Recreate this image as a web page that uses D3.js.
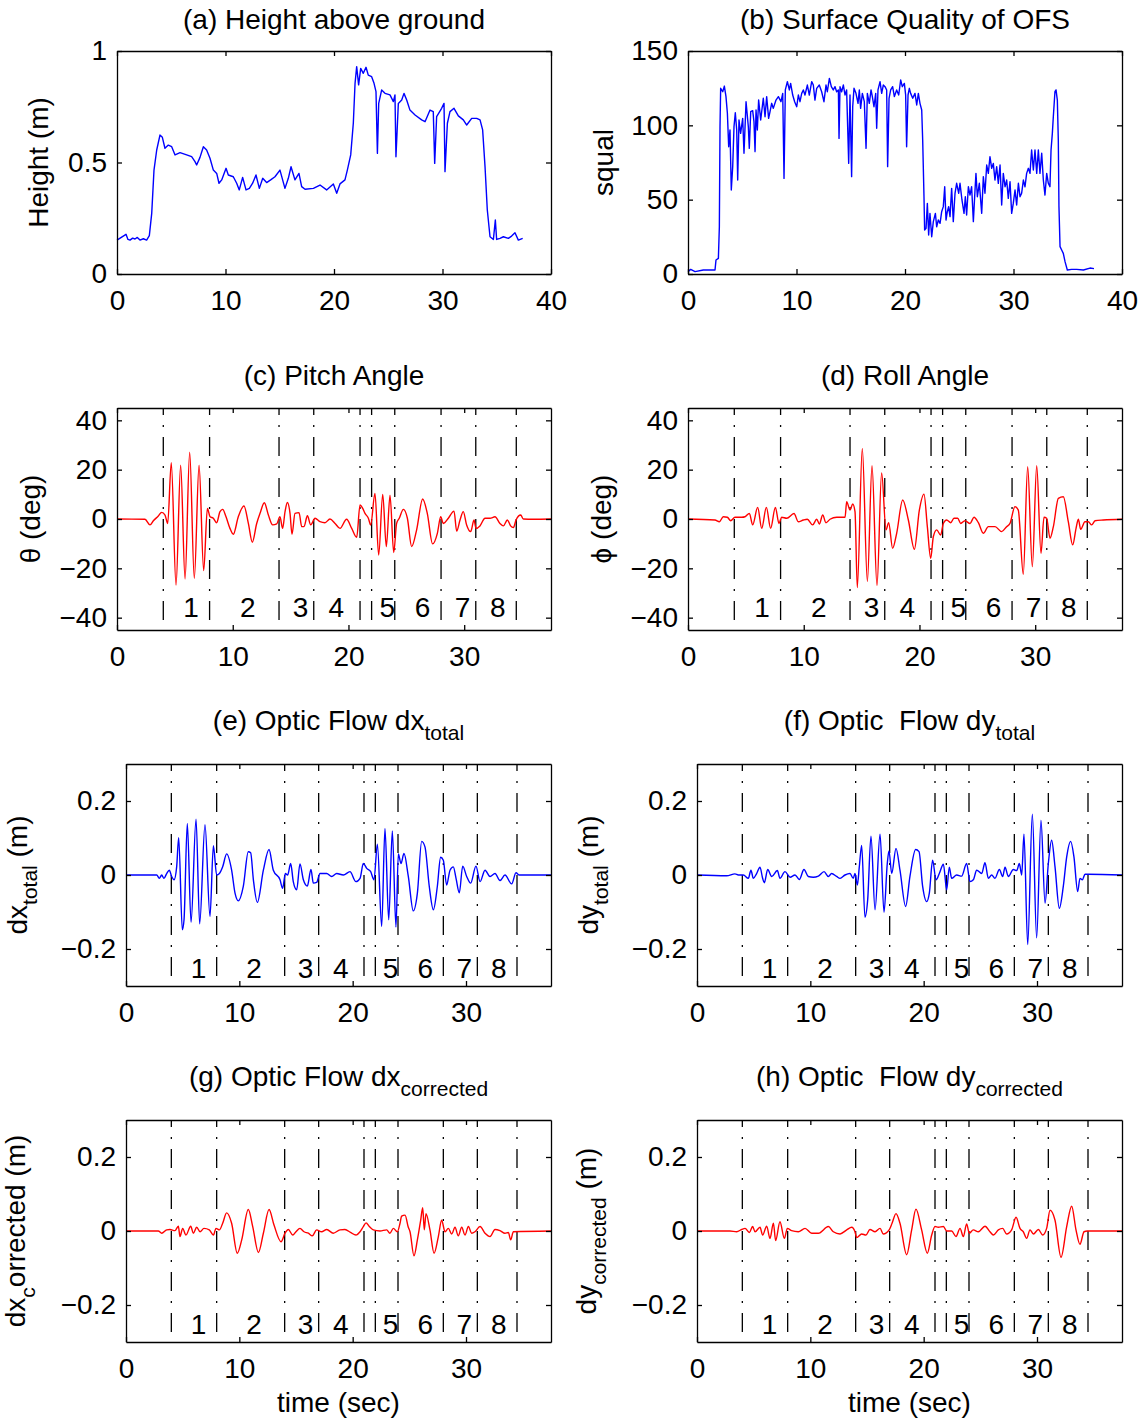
<!DOCTYPE html>
<html><head><meta charset="utf-8">
<script src="https://cdn.jsdelivr.net/npm/d3@7"></script>
<style>
body{margin:0;background:#fff;}
text{font-family:"Liberation Sans",Arial,Helvetica,sans-serif;white-space:pre;}
</style></head><body>
<script>
// ---------- DATA (time [s], value) ----------
const heightData = [[0,.152],[.83,.178],[1.01,.155],[1.2,.152],[1.44,.161],[1.66,.157],[1.87,.164],[2.12,.152],[2.43,.158],[2.73,.152],[2.98,.172],[3.2,.272],[3.41,.466],[3.66,.556],[3.96,.623],[4.18,.613],[4.42,.564],[4.73,.578],[5.04,.571],[5.35,.534],[5.81,.544],[6.42,.534],[6.88,.526],[7.19,.504],[7.34,.489],[7.65,.523],[7.96,.571],[8.26,.556],[8.57,.519],[8.88,.466],[9.19,.451],[9.4,.407],[9.65,.422],[10.05,.474],[10.26,.444],[10.72,.436],[11.03,.407],[11.27,.377],[11.58,.433],[11.89,.377],[12.2,.384],[12.5,.407],[12.81,.444],[13.12,.384],[13.43,.429],[13.79,.41],[14.16,.422],[14.56,.436],[15.02,.466],[15.48,.384],[15.79,.429],[16.04,.481],[16.4,.422],[16.77,.451],[17.02,.392],[17.33,.38],[18.1,.384],[18.71,.399],[19.32,.377],[19.94,.404],[20.25,.362],[20.55,.404],[21.01,.422],[21.23,.466],[21.54,.534],[21.78,.676],[21.94,.855],[22.09,.93],[22.27,.848],[22.46,.922],[22.7,.9],[22.95,.927],[23.16,.892],[23.47,.885],[23.69,.855],[23.87,.818],[24.0,.541],[24.12,.765],[24.39,.825],[24.7,.81],[25.16,.803],[25.47,.773],[25.62,.803],[25.71,.526],[25.93,.765],[26.24,.78],[26.45,.81],[26.7,.78],[27.0,.735],[27.47,.713],[28.08,.691],[28.39,.683],[28.85,.735],[29.15,.728],[29.28,.496],[29.46,.706],[29.92,.743],[30.14,.765],[30.23,.459],[30.45,.676],[30.69,.728],[31.06,.743],[31.46,.709],[31.92,.691],[32.23,.668],[32.69,.698],[33.15,.698],[33.46,.691],[33.7,.646],[33.92,.481],[34.13,.287],[34.38,.167],[34.69,.155],[34.87,.242],[34.99,.155],[35.3,.16],[35.61,.167],[36.07,.16],[36.37,.17],[36.68,.185],[36.99,.152],[37.39,.16]];

const squalData = [[0,1.6],[.25,3.1],[.65,1.6],[1.41,2.7],[2.49,2.7],[2.58,9.4],[2.8,10.5],[2.89,31.8],[2.95,99.1],[3.01,124.9],[3.2,122.6],[3.35,126.4],[3.5,119.3],[3.63,108.1],[3.75,85.6],[3.87,96.9],[3.99,56.5],[4.12,72.2],[4.24,99.1],[4.36,108.5],[4.49,96.9],[4.58,63.2],[4.7,103.6],[4.85,94.6],[5.04,104.7],[5.16,81.2],[5.35,115.9],[5.56,99.1],[5.65,84.5],[5.78,109.2],[5.96,109.9],[6.08,102.5],[6.18,82.3],[6.27,110.3],[6.39,96.9],[6.51,117],[6.7,103.6],[6.94,118.2],[7.1,105.8],[7.25,119.3],[7.43,104.7],[7.56,109.2],[7.71,114.8],[7.86,111.4],[8.11,117],[8.33,119.3],[8.57,115.9],[8.73,121.5],[8.85,64.3],[8.97,123.8],[9.16,129.4],[9.34,123.8],[9.46,128.2],[9.65,120.4],[9.83,115.9],[10.02,112.5],[10.17,120.4],[10.32,115.9],[10.48,121.5],[10.63,123.8],[10.78,120.4],[11.0,127.1],[11.18,120.4],[11.4,129.4],[11.55,127.1],[11.7,117],[11.86,124.9],[12.1,127.1],[12.32,122.6],[12.53,115.9],[12.72,127.1],[12.84,122.6],[13.03,131.6],[13.21,126],[13.39,123.8],[13.55,126],[13.7,122.6],[13.86,123.8],[13.92,91.2],[14.01,126],[14.16,122.6],[14.32,127.1],[14.47,120.4],[14.62,123.8],[14.81,74.4],[14.93,120.4],[15.08,65.5],[15.18,112.5],[15.3,124.9],[15.48,121.5],[15.67,114.8],[15.79,123.8],[15.91,111.4],[16.07,121.5],[16.25,115.9],[16.41,84.5],[16.53,121.5],[16.71,114.8],[16.87,123.8],[16.99,119.3],[17.14,112.5],[17.3,121.5],[17.39,98],[17.51,123.8],[17.7,129.4],[17.85,121.5],[18.0,127.1],[18.16,126],[18.31,123.8],[18.4,72.2],[18.53,118.2],[18.68,123.8],[18.86,126],[19.02,119.3],[19.23,123.8],[19.42,120.4],[19.6,130.5],[19.75,126],[19.94,128.2],[20.06,120.4],[20.15,85.6],[20.28,120.4],[20.4,124.9],[20.52,121.5],[20.71,118.2],[20.92,121.5],[21.08,113.7],[21.23,121.5],[21.38,114.8],[21.54,110.3],[21.63,90.1],[21.75,52],[21.81,29.6],[21.94,30.7],[22.06,47.5],[22.18,26.2],[22.3,40.8],[22.46,25.1],[22.61,35.2],[22.8,40.8],[22.92,31.8],[23.07,36.3],[23.23,34.1],[23.38,41.9],[23.53,45.3],[23.66,58.7],[23.78,36.3],[23.9,41.9],[24.02,45.3],[24.15,38.6],[24.3,57.6],[24.45,35.2],[24.61,54.3],[24.76,61],[24.95,54.3],[25.07,61],[25.25,49.8],[25.44,40.8],[25.56,52],[25.68,39.7],[25.84,58.7],[25.99,53.1],[26.14,58.7],[26.3,35.2],[26.42,52],[26.54,67.7],[26.67,52],[26.85,61],[27.07,40.8],[27.22,65.5],[27.37,54.3],[27.53,73.3],[27.68,67.7],[27.83,78.9],[27.99,71.1],[28.14,74.4],[28.29,63.2],[28.45,72.2],[28.6,61],[28.76,73.3],[28.91,46.4],[29.06,67.7],[29.22,58.7],[29.37,63.2],[29.52,50.9],[29.68,62.1],[29.83,40.8],[29.98,47.5],[30.14,56.5],[30.29,46.4],[30.45,61],[30.6,52],[30.75,54.3],[30.91,63.2],[31.06,58.7],[31.21,67.7],[31.37,71.1],[31.52,67.7],[31.67,83.4],[31.83,70],[31.98,83.4],[32.14,67.7],[32.29,83.4],[32.44,67.7],[32.6,81.2],[32.75,63.2],[32.9,53.1],[33.06,67.7],[33.21,61],[33.36,58.7],[33.46,83.4],[33.58,94.6],[33.67,105.8],[33.82,122.6],[33.92,123.8],[34.04,117],[34.13,90.1],[34.19,45.3],[34.29,18.4],[34.44,16.1],[34.59,13.9],[34.75,8.3],[34.96,2.7],[35.36,3.1],[35.82,3.1],[36.44,2.7],[37.05,4.0],[37.42,3.6]];

const pitchData = [[0,0],[2.42,-.1],[2.85,-2.4],[3.14,-.7],[3.57,1.2],[3.86,2.7],[4.15,1.6],[4.38,-1.8],[4.69,22.8],[5.1,-26.8],[5.5,21.8],[5.88,-24.3],[6.28,27.1],[6.68,-24.0],[7.09,21.8],[7.49,-20.9],[7.81,4.3],[8.04,.9],[8.32,.3],[8.61,-1.5],[8.9,3.0],[9.13,3.9],[9.42,.9],[9.76,-3.8],[10.05,-6.2],[10.48,.9],[10.97,5.3],[11.35,-1.8],[11.69,-9.4],[12.07,-1.8],[12.36,2.3],[12.73,6.6],[13.08,1.6],[13.45,-2.4],[13.8,-2.0],[14.08,.9],[14.31,-3.8],[14.52,3.0],[14.72,6.7],[14.95,2.3],[15.12,-6.2],[15.38,2.3],[15.73,2.6],[15.96,-3.1],[16.16,-3.1],[16.45,1.3],[16.74,-2.4],[17.11,.3],[17.54,-1.1],[17.97,-1.5],[18.4,0],[18.84,-1.8],[19.27,-3.8],[19.84,-.1],[20.28,-3.8],[20.71,-7.4],[21.0,5.7],[21.23,4.3],[21.43,2.3],[21.72,.3],[21.92,-2.4],[22.29,10.4],[22.61,-14.6],[22.96,10.0],[23.27,-11.2],[23.59,9.6],[23.91,-13.6],[24.16,-1.8],[24.39,.3],[24.74,3.9],[25.09,.3],[25.46,-11.2],[25.89,-4.4],[26.41,8.1],[26.81,2.3],[27.27,-10.1],[27.68,-5.8],[27.97,.9],[28.2,-1.8],[28.63,.3],[29.12,3.2],[29.35,-4.9],[29.64,-.4],[29.92,3.0],[30.21,-2.4],[30.56,-5.1],[30.85,-.4],[31.02,-3.8],[31.36,-2.8],[31.8,.3],[32.23,.3],[32.66,.9],[33.09,-1.8],[33.38,-2.8],[33.73,-.4],[34.01,-2.8],[34.25,-3.5],[34.48,-.4],[34.88,1.6],[35.11,0],[35.97,-.1],[37.5,0]];

const rollData = [[0,0],[2.33,-.4],[2.71,-1.1],[3.05,.9],[3.4,.7],[3.69,-.7],[4.06,.7],[4.64,.7],[4.93,.9],[5.3,2.3],[5.59,-2.4],[6.02,4.7],[6.37,-3.8],[6.77,4.7],[7.14,-3.8],[7.55,4.7],[7.86,-1.8],[8.09,.7],[8.53,.3],[9.16,2.2],[9.53,-1.1],[9.97,-.4],[10.31,-.1],[10.77,-2.4],[11.12,-.1],[11.35,-2.0],[11.64,1.6],[11.92,-1.5],[12.27,-.1],[12.85,.7],[13.57,.7],[13.71,7.0],[14.0,3.6],[14.23,6.1],[14.43,3.0],[14.63,-27.8],[15.06,28.6],[15.5,-25.3],[15.9,21.6],[16.33,-27.0],[16.73,18.7],[17.11,-4.4],[17.34,-1.5],[17.68,-11.9],[18.03,-5.8],[18.55,7.7],[19.04,-.4],[19.56,-12.3],[19.99,3.6],[20.39,10.1],[20.68,-3.1],[20.97,-15.9],[21.2,-7.1],[21.49,-4.4],[21.83,-6.5],[22.06,-1.8],[22.35,-.4],[22.7,-1.5],[22.98,.3],[23.3,.3],[23.56,-1.8],[23.93,-.7],[24.37,-1.8],[24.71,.7],[25.09,-1.5],[25.52,-5.8],[25.95,-3.1],[26.53,-3.1],[27.1,-5.1],[27.53,-3.1],[27.82,-1.8],[28.25,5.0],[28.54,3.6],[28.97,-22.4],[29.35,21.2],[29.75,-19.3],[30.13,21.6],[30.5,-13.9],[30.76,.7],[30.99,.3],[31.28,-7.8],[31.57,-3.1],[32.0,8.4],[32.43,9.0],[32.86,-1.1],[33.24,-10.5],[33.53,-3.8],[33.73,-.1],[33.93,-4.2],[34.3,-1.1],[34.59,-1.1],[34.88,-2.4],[35.17,-.7],[35.89,-.4],[37.5,-.1]];

const dxTotalData = [[0,0],[2.71,0],[2.94,-.009],[3.15,0],[3.35,-.009],[3.59,.004],[3.82,.013],[4.03,-.004],[4.24,-.013],[4.47,.022],[4.65,.101],[4.97,-.148],[5.12,-.121],[5.41,.139],[5.74,-.128],[6.18,.151],[6.5,-.132],[6.97,.136],[7.41,-.112],[7.71,.079],[8.0,0],[8.24,.004],[8.53,.022],[8.88,.057],[9.32,.013],[9.62,-.049],[9.91,-.07],[10.35,-.031],[10.79,.063],[11.0,.06],[11.24,-.013],[11.59,-.074],[12.12,.013],[12.62,.069],[13.0,.013],[13.59,-.013],[13.82,-.036],[14.06,.004],[14.26,0],[14.53,.031],[14.76,-.018],[15.06,-.04],[15.35,.03],[15.65,-.013],[16.0,-.03],[16.32,.015],[16.53,-.022],[16.82,-.02],[17.12,.004],[17.71,.004],[18.15,-.004],[18.59,.004],[19.18,0],[19.76,.009],[20.29,-.018],[20.65,-.009],[20.94,.031],[21.24,.018],[21.59,.009],[21.88,-.013],[22.18,.083],[22.56,-.139],[22.85,.126],[23.18,-.121],[23.5,.119],[23.82,-.141],[24.03,.057],[24.26,.031],[24.53,.058],[24.91,-.004],[25.35,-.097],[25.71,-.049],[26.09,.091],[26.38,.076],[26.76,-.031],[27.12,-.094],[27.47,-.031],[27.76,.048],[28.0,.04],[28.29,-.027],[28.59,.013],[28.88,.022],[29.12,-.009],[29.41,-.048],[29.71,.024],[30.06,-.004],[30.41,-.022],[30.88,.024],[31.24,-.018],[31.68,.013],[32.12,-.004],[32.56,.004],[33.0,-.015],[33.44,0],[34.03,-.024],[34.41,.006],[34.71,0],[37.5,0]];

const dyTotalData = [[0,0],[2.62,-.002],[3.35,.003],[3.65,0],[4.09,0],[4.53,-.009],[4.76,.013],[4.97,-.009],[5.26,.004],[5.56,.021],[5.79,-.009],[5.94,-.021],[6.24,.015],[6.59,-.004],[7.09,.012],[7.32,-.009],[7.76,.009],[8.21,-.006],[8.65,0],[9.03,-.012],[9.44,.015],[9.82,-.004],[10.26,-.006],[10.71,-.003],[11.21,.009],[11.59,-.004],[11.88,.004],[12.32,-.004],[12.62,-.009],[13.06,0],[13.5,.004],[13.79,-.009],[13.94,.004],[14.15,-.027],[14.32,.022],[14.53,.08],[14.82,-.114],[15.06,-.067],[15.35,.105],[15.71,-.094],[16.15,.11],[16.5,-.101],[16.79,.031],[16.94,.065],[17.18,.004],[17.56,.072],[17.91,.013],[18.41,-.085],[18.79,-.004],[19.29,.069],[19.59,.063],[19.91,-.031],[20.26,-.072],[20.5,-.049],[20.79,.04],[21.09,-.013],[21.38,.004],[21.74,.029],[22.03,-.04],[22.26,.021],[22.47,-.009],[22.91,0],[23.35,-.003],[23.79,.031],[24.09,-.018],[24.38,-.013],[24.68,.013],[25.12,.004],[25.41,.033],[25.71,-.009],[26.0,0],[26.29,-.009],[26.68,.015],[26.97,-.004],[27.18,.021],[27.47,-.004],[27.91,.015],[28.21,.012],[28.44,.031],[28.65,0],[28.85,.11],[29.18,-.188],[29.59,.164],[29.97,-.17],[30.35,.148],[30.71,-.076],[31.0,.031],[31.29,.094],[31.59,.022],[31.97,-.09],[32.32,-.031],[32.62,.049],[32.97,.091],[33.26,.049],[33.59,-.045],[33.79,-.009],[34.0,-.013],[34.24,.002],[34.53,.002],[37.5,0]];

const dxCorrData = [[0,0],[2.85,0],[3.15,-.006],[3.59,.003],[3.88,.004],[4.32,.001],[4.62,.013],[4.76,-.015],[5.0,.007],[5.29,-.011],[5.71,.013],[5.94,-.006],[6.24,.01],[6.53,-.002],[6.88,.007],[7.35,.003],[7.71,-.011],[7.94,.007],[8.24,.003],[8.53,.021],[8.88,.049],[9.32,.021],[9.82,-.06],[10.21,-.024],[10.79,.058],[11.18,.012],[11.68,-.058],[12.12,-.006],[12.62,.058],[13.06,.016],[13.68,-.029],[14.03,-.006],[14.32,.004],[14.71,-.011],[15.0,-.002],[15.35,.007],[15.71,-.002],[16.09,-.006],[16.44,-.013],[16.82,.003],[17.26,-.002],[17.71,.004],[18.29,-.006],[18.88,.003],[19.32,.004],[19.82,-.004],[20.29,-.011],[20.65,-.002],[20.94,.012],[21.18,.022],[21.47,.012],[21.82,.003],[22.41,0],[23.0,.003],[23.29,-.006],[23.59,.007],[23.94,-.002],[24.18,.021],[24.32,.04],[24.62,.043],[24.91,.01],[25.06,-.002],[25.41,-.067],[25.71,-.024],[26.0,.029],[26.18,.063],[26.32,.003],[26.47,.047],[26.82,.003],[27.18,-.06],[27.56,-.015],[27.85,.029],[28.15,-.002],[28.44,.007],[28.74,-.008],[29.03,.01],[29.32,-.013],[29.62,.01],[29.91,-.011],[30.21,.012],[30.5,-.006],[30.79,-.002],[31.24,.012],[31.68,-.006],[32.12,-.015],[32.56,.004],[33.0,.001],[33.44,-.006],[33.74,-.004],[33.94,-.024],[34.18,-.002],[37.5,0]];

const dyCorrData = [[0,0],[2.91,0],[3.5,-.002],[3.94,.004],[4.24,.007],[4.62,-.004],[4.91,.012],[5.12,-.002],[5.56,.01],[5.79,-.011],[6.15,.013],[6.44,-.02],[6.74,.021],[6.94,-.026],[7.32,.025],[7.71,-.02],[7.97,.007],[8.35,.001],[8.94,-.002],[9.53,.007],[10.12,-.006],[10.71,-.006],[11.59,.012],[12.03,-.002],[12.62,-.008],[13.21,.003],[13.65,.01],[13.94,-.002],[14.09,-.018],[14.53,-.008],[14.91,-.011],[15.26,.004],[15.71,-.002],[16.15,.007],[16.44,-.008],[16.97,.004],[17.21,.021],[17.56,.047],[17.91,.021],[18.5,-.064],[18.94,.003],[19.32,.059],[19.82,.003],[20.32,-.06],[20.71,-.011],[21.0,.012],[21.29,.01],[21.74,.012],[22.03,0],[22.47,0],[22.85,-.015],[23.21,.007],[23.5,-.015],[23.79,.019],[24.03,-.006],[24.38,.003],[24.82,-.002],[25.41,.013],[25.85,-.002],[26.15,-.011],[26.59,.003],[26.97,.007],[27.32,-.008],[27.76,.003],[28.15,.037],[28.5,.007],[28.79,-.002],[29.09,-.02],[29.38,.003],[29.68,-.008],[30.12,.004],[30.5,-.011],[30.85,.007],[31.15,.056],[31.59,.029],[32.12,-.071],[32.62,.012],[33.06,.067],[33.44,.003],[33.79,-.036],[34.15,-.002],[34.44,0],[37.5,0]];

// section boundaries (s) and section numbers
const sectionLines = [4, 8, 14, 17, 21, 22, 24, 28, 31, 34.5];
const sectionNames = ["1","2","3","4","5","6","7","8"];
const sectionNamePos = [6.4, 11.3, 15.85, 18.95, 23.35, 26.4, 29.85, 32.9];

// ticks
const xTicks40 = [0,10,20,30,40];
const xTicks30 = [0,10,20,30];
const heightTicks = [0,0.5,1], heightTickLabels = ["0","0.5","1"];
const squalTicks = [0,50,100,150], squalTickLabels = ["0","50","100","150"];
const angleTicks = [-40,-20,0,20,40], angleTickLabels = ["\u221240","\u221220","0","20","40"];
const flowTicks = [-0.2,0,0.2], flowTickLabels = ["\u22120.2","0","0.2"];

// ---------- DRAW ----------
const FONT = 28, SUB = 21, SUBDY = 10;
const svg = d3.select("body").append("svg").attr("width",1147).attr("height",1418);

const panels = [
 {x0:117,y0:51,w:434,h:223,data:heightData,color:"#0000ff",xDom:[0,40],yDom:[0,1],xt:xTicks40,yt:heightTicks,yl:heightTickLabels,curve:d3.curveLinear,
  title:[["(a) Height above ground","n"]],tY:29,ylab:[["Height (m)","n"]],ylX:48,sec:false},
 {x0:688,y0:51,w:434,h:223,data:squalData,color:"#0000ff",xDom:[0,40],yDom:[0,150],xt:xTicks40,yt:squalTicks,yl:squalTickLabels,curve:d3.curveLinear,
  title:[["(b) Surface Quality of OFS","n"]],tY:29,ylab:[["squal","n"]],ylX:613,sec:false},
 {x0:117,y0:408,w:434,h:222,data:pitchData,color:"#ff0000",xDom:[0,37.5],yDom:[-45,45],xt:xTicks30,yt:angleTicks,yl:angleTickLabels,curve:d3.curveMonotoneX,
  title:[["(c) Pitch Angle","n"]],tY:385,ylab:[["\u03b8 (deg)","n"]],ylX:40,sec:true,secY:-35.5},
 {x0:688,y0:408,w:434,h:222,data:rollData,color:"#ff0000",xDom:[0,37.5],yDom:[-45,45],xt:xTicks30,yt:angleTicks,yl:angleTickLabels,curve:d3.curveMonotoneX,
  title:[["(d) Roll Angle","n"]],tY:385,ylab:[["\u03d5 (deg)","n"]],ylX:611,sec:true,secY:-35.5},
 {x0:126,y0:764,w:425,h:222,data:dxTotalData,color:"#0000ff",xDom:[0,37.5],yDom:[-0.3,0.3],xt:xTicks30,yt:flowTicks,yl:flowTickLabels,curve:d3.curveMonotoneX,
  title:[["(e) Optic Flow dx","n"],["total","s"]],tY:730,ylab:[["dx","n"],["total","s"],[" (m)","n"]],ylX:27,sec:true,secY:-0.25},
 {x0:697,y0:764,w:425,h:222,data:dyTotalData,color:"#0000ff",xDom:[0,37.5],yDom:[-0.3,0.3],xt:xTicks30,yt:flowTicks,yl:flowTickLabels,curve:d3.curveMonotoneX,
  title:[["(f) Optic  Flow dy","n"],["total","s"]],tY:730,ylab:[["dy","n"],["total","s"],[" (m)","n"]],ylX:598,sec:true,secY:-0.25},
 {x0:126,y0:1120,w:425,h:222,data:dxCorrData,color:"#ff0000",xDom:[0,37.5],yDom:[-0.3,0.3],xt:xTicks30,yt:flowTicks,yl:flowTickLabels,curve:d3.curveMonotoneX,
  title:[["(g) Optic Flow dx","n"],["corrected","s"]],tY:1086,ylab:[["dx","n"],["c","s"],["orrected (m)","n"]],ylX:25,sec:true,secY:-0.25,xlab:"time (sec)"},
 {x0:697,y0:1120,w:425,h:222,data:dyCorrData,color:"#ff0000",xDom:[0,37.5],yDom:[-0.3,0.3],xt:xTicks30,yt:flowTicks,yl:flowTickLabels,curve:d3.curveMonotoneX,
  title:[["(h) Optic  Flow dy","n"],["corrected","s"]],tY:1086,ylab:[["dy","n"],["corrected","s"],[" (m)","n"]],ylX:596,sec:true,secY:-0.25,xlab:"time (sec)"}
];

function rich(sel, segs){
  let cur = "n";
  segs.forEach(([s,k])=>{
    const ts = sel.append("tspan").text(s).attr("font-size", k==="s"?SUB:FONT);
    if(k!==cur){ ts.attr("dy", k==="s"? SUBDY : -SUBDY); cur = k; }
  });
}

function styleAxis(g){
  g.attr("font-size",FONT).attr("font-family",'"Liberation Sans",Arial,sans-serif');
  g.selectAll("path,line").attr("stroke","#000").attr("stroke-width",1.3);
  g.selectAll("text").attr("fill","#000");
}

panels.forEach(p=>{
  const g = svg.append("g").attr("transform",`translate(${p.x0},${p.y0})`);
  const x = d3.scaleLinear().domain(p.xDom).range([0,p.w]);
  const y = d3.scaleLinear().domain(p.yDom).range([p.h,0]);

  // section boundary lines
  if(p.sec){
    g.selectAll("line.sec").data(sectionLines).enter().append("line")
      .attr("x1",d=>x(d)).attr("x2",d=>x(d)).attr("y1",0).attr("y2",p.h)
      .attr("stroke","#000").attr("stroke-width",1.3)
      .attr("stroke-dasharray","19,10,2,10").attr("stroke-dashoffset",12);
  }

  // data line
  const line = d3.line().x(d=>x(d[0])).y(d=>y(d[1])).curve(p.curve);
  g.append("path").datum(p.data).attr("d",line).attr("fill","none")
    .attr("stroke",p.color).attr("stroke-width",1.4).attr("stroke-linejoin","round");

  // section names
  if(p.sec){
    g.selectAll("text.secn").data(sectionNames).enter().append("text")
      .attr("x",(d,i)=>x(sectionNamePos[i])).attr("y",y(p.secY)).attr("dy","0.36em")
      .attr("text-anchor","middle").attr("font-size",FONT).attr("fill","#000").text(d=>d);
  }

  // axes (box with inward ticks)
  const ab = g.append("g").attr("transform",`translate(0,${p.h})`)
    .call(d3.axisBottom(x).tickValues(p.xt).tickFormat(d=>String(d)).tickSize(-5).tickSizeOuter(0).tickPadding(16));
  const at = g.append("g").call(d3.axisTop(x).tickValues(p.xt).tickFormat("").tickSize(-5).tickSizeOuter(0));
  const al = g.append("g")
    .call(d3.axisLeft(y).tickValues(p.yt).tickFormat((d,i)=>p.yl[i]).tickSize(-5).tickSizeOuter(0).tickPadding(10));
  const ar = g.append("g").attr("transform",`translate(${p.w},0)`)
    .call(d3.axisRight(y).tickValues(p.yt).tickFormat("").tickSize(-5).tickSizeOuter(0));
  [ab,at,al,ar].forEach(styleAxis);

  // title
  const t = svg.append("text").attr("x",p.x0+p.w/2).attr("y",p.tY).attr("text-anchor","middle").attr("fill","#000");
  rich(t,p.title);

  // y label
  const yl = svg.append("text").attr("transform",`translate(${p.ylX},${p.y0+p.h/2}) rotate(-90)`)
    .attr("text-anchor","middle").attr("fill","#000");
  rich(yl,p.ylab);

  // x label
  if(p.xlab){
    svg.append("text").attr("x",p.x0+p.w/2).attr("y",1412).attr("text-anchor","middle")
      .attr("font-size",FONT).attr("fill","#000").text(p.xlab);
  }
});
</script>
</body></html>
